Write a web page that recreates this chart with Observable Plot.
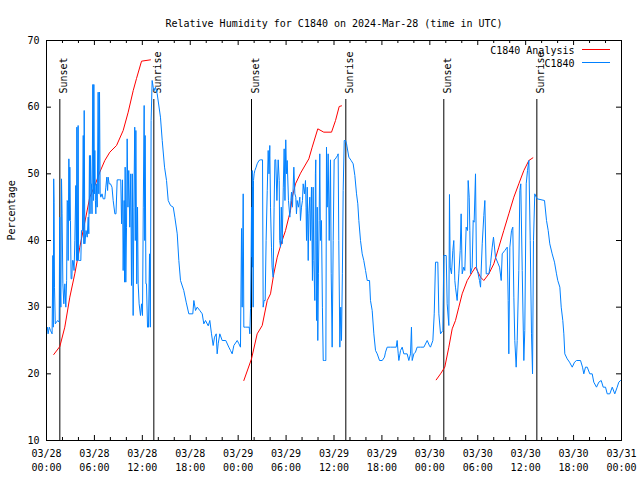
<!DOCTYPE html>
<html><head><meta charset="utf-8">
<script src="https://cdn.jsdelivr.net/npm/d3@7"></script>
<script src="https://cdn.jsdelivr.net/npm/@observablehq/plot@0.6"></script>
<style>body{margin:0;background:#fff}</style>
</head><body><div id="chart"></div>
<script>
const title = "Relative Humidity for C1840 on 2024-Mar-28 (time in UTC)";
const yLabel = "Percentage";
const xTickHours = [0, 6, 12, 18, 24, 30, 36, 42, 48, 54, 60, 66, 72];
const xTickDates = ["03/28","03/28","03/28","03/28","03/29","03/29","03/29","03/29","03/30","03/30","03/30","03/30","03/31"];
const xTickTimes = ["00:00","06:00","12:00","18:00","00:00","06:00","12:00","18:00","00:00","06:00","12:00","18:00","00:00"];
const xMinorHours = d3.range(0, 73, 2).filter(h => h % 6 !== 0);
const yTicks = [10, 20, 30, 40, 50, 60, 70];
const sunHours = [1.67, 13.44, 25.67, 37.48, 49.75, 61.4];
const sunLabels = ["Sunset", "Sunrise", "Sunset", "Sunrise", "Sunset", "Sunrise"];
const legendNames = ["C1840 Analysis", "C1840"];
const legendColors = ["#ff0000", "#0080ff"];

// C1840 Analysis (hours since 03/28 00:00 UTC, RH %)
const analysisNight1 = [[0.91,22.9],[1.67,24.1],[2.29,27],[2.92,31.5],[3.54,35],[4.17,39],[4.8,42.75],[5.42,46.5],[6.05,48.25],[6.67,50.25],[7.3,52],[7.93,53.25],[8.77,54.25],[9.6,56.5],[10.23,59.25],[10.86,62.5],[11.27,64.3],[11.9,66.9],[13.02,67.1]];
const analysisNight2 = [[24.71,19],[25.67,22.25],[26.38,26],[27.01,27.25],[27.64,31],[28.05,32],[28.46,35],[28.89,37.5],[29.51,40],[29.93,41.5],[30.34,43.5],[30.55,44.5],[30.77,46.5],[31.18,48.5],[31.81,50.1],[32.85,52.25],[33.27,54],[33.97,56.75],[34.72,56.25],[35.69,56.25],[36.19,58],[36.65,60.1],[36.94,60.2]];
const analysisNight3 = [[48.8,19.1],[49.34,20],[49.87,21],[50.38,24],[50.8,26.75],[51.21,28],[51.63,30],[52.05,32],[52.68,34],[53.31,35.25],[53.72,36],[54.35,34.5],[54.76,34],[55.39,35],[56.01,36.5],[56.64,39],[57.26,41.5],[57.89,44],[58.52,46.5],[59.14,48.5],[59.77,50.5],[60.4,52],[60.9,52.4]];

// C1840 observations
const obsDay1 = [[0,26.5],[0.1,27],[0.2,26],[0.35,27],[0.5,26.5],[0.7,26],[0.8,37.75],[0.85,27],[0.9,49.25],[0.95,45.75],[1.0,33],[1.1,27.5],[1.25,27.75],[1.4,28],[1.59,27.75],[1.65,43.5],[1.72,33],[1.8,30],[1.88,49.25],[1.95,44],[2.05,33.5],[2.17,30.5],[2.3,33.5],[2.42,30],[2.52,34],[2.59,46],[2.65,45.75],[2.71,37],[2.8,52.25],[2.88,43],[2.92,51],[3.0,43],[3.08,34.25],[3.17,34.25],[3.25,37],[3.34,37],[3.45,35.5],[3.55,40],[3.67,48.25],[3.75,37],[3.8,57],[3.88,37],[3.96,57.25],[4.02,37],[4.17,37],[4.3,37],[4.38,41.5],[4.5,41.5],[4.6,55.75],[4.68,39.5],[4.72,59.5],[4.8,39.5],[4.95,41.5],[5.1,40.5],[5.22,43.5],[5.3,41],[5.38,52.75],[5.45,44],[5.51,52.75],[5.58,48.5],[5.63,48.5],[5.7,44],[5.8,63.4],[5.87,46],[5.93,63.4],[6.0,47],[6.05,53.5],[6.12,46],[6.18,44],[6.26,48.5],[6.35,45],[6.47,62.25],[6.55,47],[6.64,62.25],[6.72,47],[6.8,46.5],[6.95,47],[7.1,46.25],[7.3,46.25],[7.43,48],[7.55,49.5],[7.65,47.5],[7.72,49.5],[7.85,48.5],[8.01,48.5],[8.2,48],[8.35,46],[8.56,44],[8.7,44],[8.85,49.1],[9.1,49.1],[9.3,49.1],[9.4,42.5],[9.52,49.1],[9.6,35.5],[9.72,46],[9.78,33.75],[9.85,51],[9.93,33.75],[10.02,42],[10.1,55.25],[10.2,45],[10.3,50.5],[10.43,42],[10.55,50],[10.64,33.25],[10.75,50],[10.85,28.75],[10.94,45],[11.05,57],[11.12,40],[11.19,56.5],[11.3,33.5],[11.4,45],[11.48,33.5],[11.6,30.5],[11.77,28.75],[11.9,30.5],[12.02,28.75],[12.12,45],[12.23,60.25],[12.3,40],[12.35,55.75],[12.45,33.5],[12.52,33.5],[12.65,27],[12.77,27],[12.9,38],[13.0,27],[13.1,58],[13.23,64],[13.36,63],[13.5,62.5],[13.65,63],[13.86,62],[14.27,58.5],[14.49,55],[14.78,51],[15.03,49],[15.24,46],[15.53,45.25],[15.87,45],[16.07,43.5],[16.37,41],[16.57,37],[16.78,34],[17.19,32.5],[17.49,30.75],[17.82,29],[18.32,29],[18.45,31],[18.66,29.5],[18.87,30],[19.2,29.5],[19.5,29],[19.7,27.5],[19.91,28],[20.25,27.2],[20.45,28],[20.66,26],[20.87,24.25],[21.04,25.5],[21.25,26],[21.37,23],[21.5,24.5],[21.7,26],[22.0,25],[22.45,25],[22.83,24],[23.04,23.5],[23.25,23],[23.46,24.25],[23.88,25],[24.1,24.5],[24.29,24]];
const obsDay2 = [[24.42,41.8],[24.5,30],[24.63,47],[24.71,27],[24.9,27],[25.1,27],[25.38,27],[25.46,26],[25.55,29.8],[25.62,37.5],[25.67,45],[25.72,37.5],[25.76,50.5],[25.8,36],[25.84,48],[25.88,30],[25.92,49],[26.0,50],[26.09,50.5],[26.25,51],[26.38,51.5],[26.6,52],[26.8,52.1],[27.05,52.1],[27.13,30],[27.25,31],[27.38,31],[27.5,40],[27.64,47.5],[27.76,53.5],[27.86,50],[27.96,54.25],[28.05,45],[28.17,39],[28.25,36],[28.38,34.5],[28.5,45],[28.6,52.1],[28.71,52.1],[28.85,46],[29.01,52.1],[29.14,49],[29.2,40],[29.3,39],[29.4,45],[29.51,39.5],[29.65,48],[29.76,53.75],[29.86,46],[29.96,55.1],[30.05,50],[30.14,52],[30.3,46],[30.47,43.5],[30.6,46],[30.68,47.25],[30.8,45],[30.97,51],[31.1,47],[31.22,46.5],[31.3,44],[31.39,46],[31.55,45],[31.72,46.5],[31.8,43],[31.93,45],[32.05,46],[32.14,48.5],[32.3,47],[32.43,49],[32.5,45],[32.56,40],[32.65,48],[32.77,37],[32.85,44],[32.97,46.5],[33.05,40],[33.18,48],[33.3,34],[33.39,48],[33.47,37],[33.6,31],[33.67,50],[33.72,52.1],[33.76,40],[33.81,28],[33.9,45],[33.97,25],[34.05,35],[34.14,43],[34.22,53],[34.3,40],[34.43,43],[34.55,30],[34.65,22],[34.8,22],[34.98,22],[35.06,54],[35.15,45],[35.27,53],[35.4,40],[35.56,52.1],[35.65,35],[35.77,24],[35.9,40],[36.02,52.1],[36.15,52.2],[36.31,52.5],[36.42,52.7],[36.52,53],[36.6,40],[36.73,24],[36.85,30],[36.94,25],[37.05,35],[37.15,47.5],[37.28,55],[37.45,55],[37.57,54.5],[37.86,52.5],[38.15,52],[38.4,51.5],[38.61,49.75],[38.82,47],[38.98,45.5],[39.11,43],[39.32,40],[39.53,38],[39.73,37],[39.95,35.5],[40.16,34],[40.45,34],[40.57,31],[40.78,29.5],[40.99,26],[41.2,23.5],[41.41,23],[41.7,22],[42.04,22],[42.32,22.5],[42.45,23.25],[42.66,24],[43.08,24],[43.79,24],[43.91,25],[44.04,23],[44.12,22],[44.33,23.5],[44.54,24],[44.74,23],[45.16,23],[45.37,22],[45.58,23],[45.7,27],[45.79,22],[46.0,23],[46.2,23.25],[46.41,24],[46.83,24],[47.25,24],[47.67,25],[47.96,24.2]];
const obsDay3 = [[48.08,24],[48.38,25],[48.55,29],[48.71,36.75],[49.0,36.75],[49.13,29],[49.34,26],[49.63,26.5],[49.75,37.75],[50.05,37.75],[50.17,30.5],[50.38,27.25],[50.46,46.9],[50.55,36],[50.71,35],[50.88,38.5],[51.0,40],[51.13,34],[51.21,33],[51.42,31],[51.63,35],[51.8,38.5],[51.92,44],[52.05,35],[52.25,36],[52.38,35.5],[52.55,42],[52.72,41.5],[52.8,49],[52.93,46.5],[53.01,41.5],[53.09,35],[53.3,36],[53.43,43],[53.55,42.75],[53.72,50],[53.84,36],[54.05,35],[54.22,34],[54.35,33],[54.56,39.5],[54.76,43.75],[54.89,46],[55.06,35],[55.39,35],[55.6,36.5],[55.81,39],[55.97,40.5],[56.22,37.5],[56.56,36.5],[56.73,36],[56.94,34],[57.06,38],[57.39,38.5],[57.69,39],[57.81,31],[57.89,23],[58.02,39],[58.23,41.5],[58.39,42],[58.52,31.5],[58.64,25],[58.81,21],[58.94,25],[59.14,35.5],[59.27,47.5],[59.39,48.5],[59.57,35.5],[59.77,22],[59.89,26.5],[60.07,48.5],[60.23,50.5],[60.4,52],[60.57,40],[60.73,26],[60.86,20],[60.98,40],[61.14,47],[61.32,46.5],[61.44,46.25],[62.36,46],[62.61,43],[62.82,41.5],[63.02,39.5],[63.32,38],[63.61,36.75],[63.86,35],[64.02,34],[64.28,33],[64.45,30],[64.65,28],[64.78,26],[64.9,23],[65.2,22.25],[65.49,21.75],[65.83,21],[66.12,21.75],[66.37,22],[66.87,22],[67.12,21],[67.28,20],[67.49,21],[67.71,21],[68.03,20],[68.33,20],[68.53,18.75],[68.87,18],[69.16,18.75],[69.46,19],[69.71,18],[70.0,18],[70.21,17],[70.54,17],[70.84,18],[71.16,17],[71.46,18],[71.66,18.75],[71.88,19]];
const observations = [...obsDay1, ...obsDay2, ...obsDay3];

const W = 640, H = 480, mL = 46, mR = 19, mT = 40, mB = 40;
const frameW = W - mL - mR, frameH = H - mT - mB;
const tk = {stroke: "black", strokeWidth: 1};

const chart = Plot.plot({
  width: W, height: H,
  marginLeft: mL, marginRight: mR, marginTop: mT, marginBottom: mB,
  style: {fontFamily: "'DejaVu Sans Mono', monospace", fontSize: "10px", background: "white", color: "black"},
  x: {domain: [0, 72]},
  y: {domain: [10, 70]},
  marks: [
    Plot.ruleX(sunHours, {x: d => d, insetTop: 59, ...tk}),
    Plot.text(sunHours, {x: d => d, text: (d, i) => sunLabels[i], frameAnchor: "top", dy: 53, rotate: -90, textAnchor: "start", fill: "black"}),
    Plot.line(analysisNight1, {x: d => d[0], y: d => d[1], stroke: legendColors[0], strokeWidth: 1}),
    Plot.line(analysisNight2, {x: d => d[0], y: d => d[1], stroke: legendColors[0], strokeWidth: 1}),
    Plot.line(analysisNight3, {x: d => d[0], y: d => d[1], stroke: legendColors[0], strokeWidth: 1}),
    Plot.line(observations, {x: d => d[0], y: d => d[1], stroke: legendColors[1], strokeWidth: 1}),
    Plot.frame(tk),
    // inward ticks (gnuplot style)
    Plot.ruleX(xTickHours, {x: d => d, insetTop: frameH - 5, ...tk}),
    Plot.ruleX(xTickHours, {x: d => d, insetBottom: frameH - 5, ...tk}),
    Plot.ruleX(xMinorHours, {x: d => d, insetTop: frameH - 3, ...tk}),
    Plot.ruleX(xMinorHours, {x: d => d, insetBottom: frameH - 3, ...tk}),
    Plot.ruleY(yTicks, {y: d => d, insetRight: frameW - 5, ...tk}),
    Plot.ruleY(yTicks, {y: d => d, insetLeft: frameW - 5, ...tk}),
    Plot.axisX({ticks: xTickHours, tickSize: 0, tickPadding: 6, label: null, lineHeight: 1.45,
      tickFormat: d => { const i = xTickHours.indexOf(d); return xTickDates[i] + "\n" + xTickTimes[i]; }}),
    Plot.axisY({ticks: yTicks, tickSize: 0, tickPadding: 7, label: null}),
    Plot.text([title], {frameAnchor: "top", dy: -21, text: d => d, fill: "black"}),
    Plot.text([yLabel], {frameAnchor: "left", dx: -35, rotate: -90, text: d => d, fill: "black"}),
    Plot.text([legendNames[0]], {frameAnchor: "top-right", dx: -47, dy: 6, text: d => d, textAnchor: "end", fill: "black"}),
    Plot.text([legendNames[1]], {frameAnchor: "top-right", dx: -47, dy: 19, text: d => d, textAnchor: "end", fill: "black"})
  ]
});
// legend line samples
const svg = d3.select(chart);
legendColors.forEach((c, i) => {
  svg.append("line").attr("x1", 582).attr("x2", 610).attr("y1", 49.5 + i * 13).attr("y2", 49.5 + i * 13)
    .attr("stroke", c).attr("stroke-width", 1);
});
document.getElementById("chart").appendChild(chart);
</script>
</body></html>
